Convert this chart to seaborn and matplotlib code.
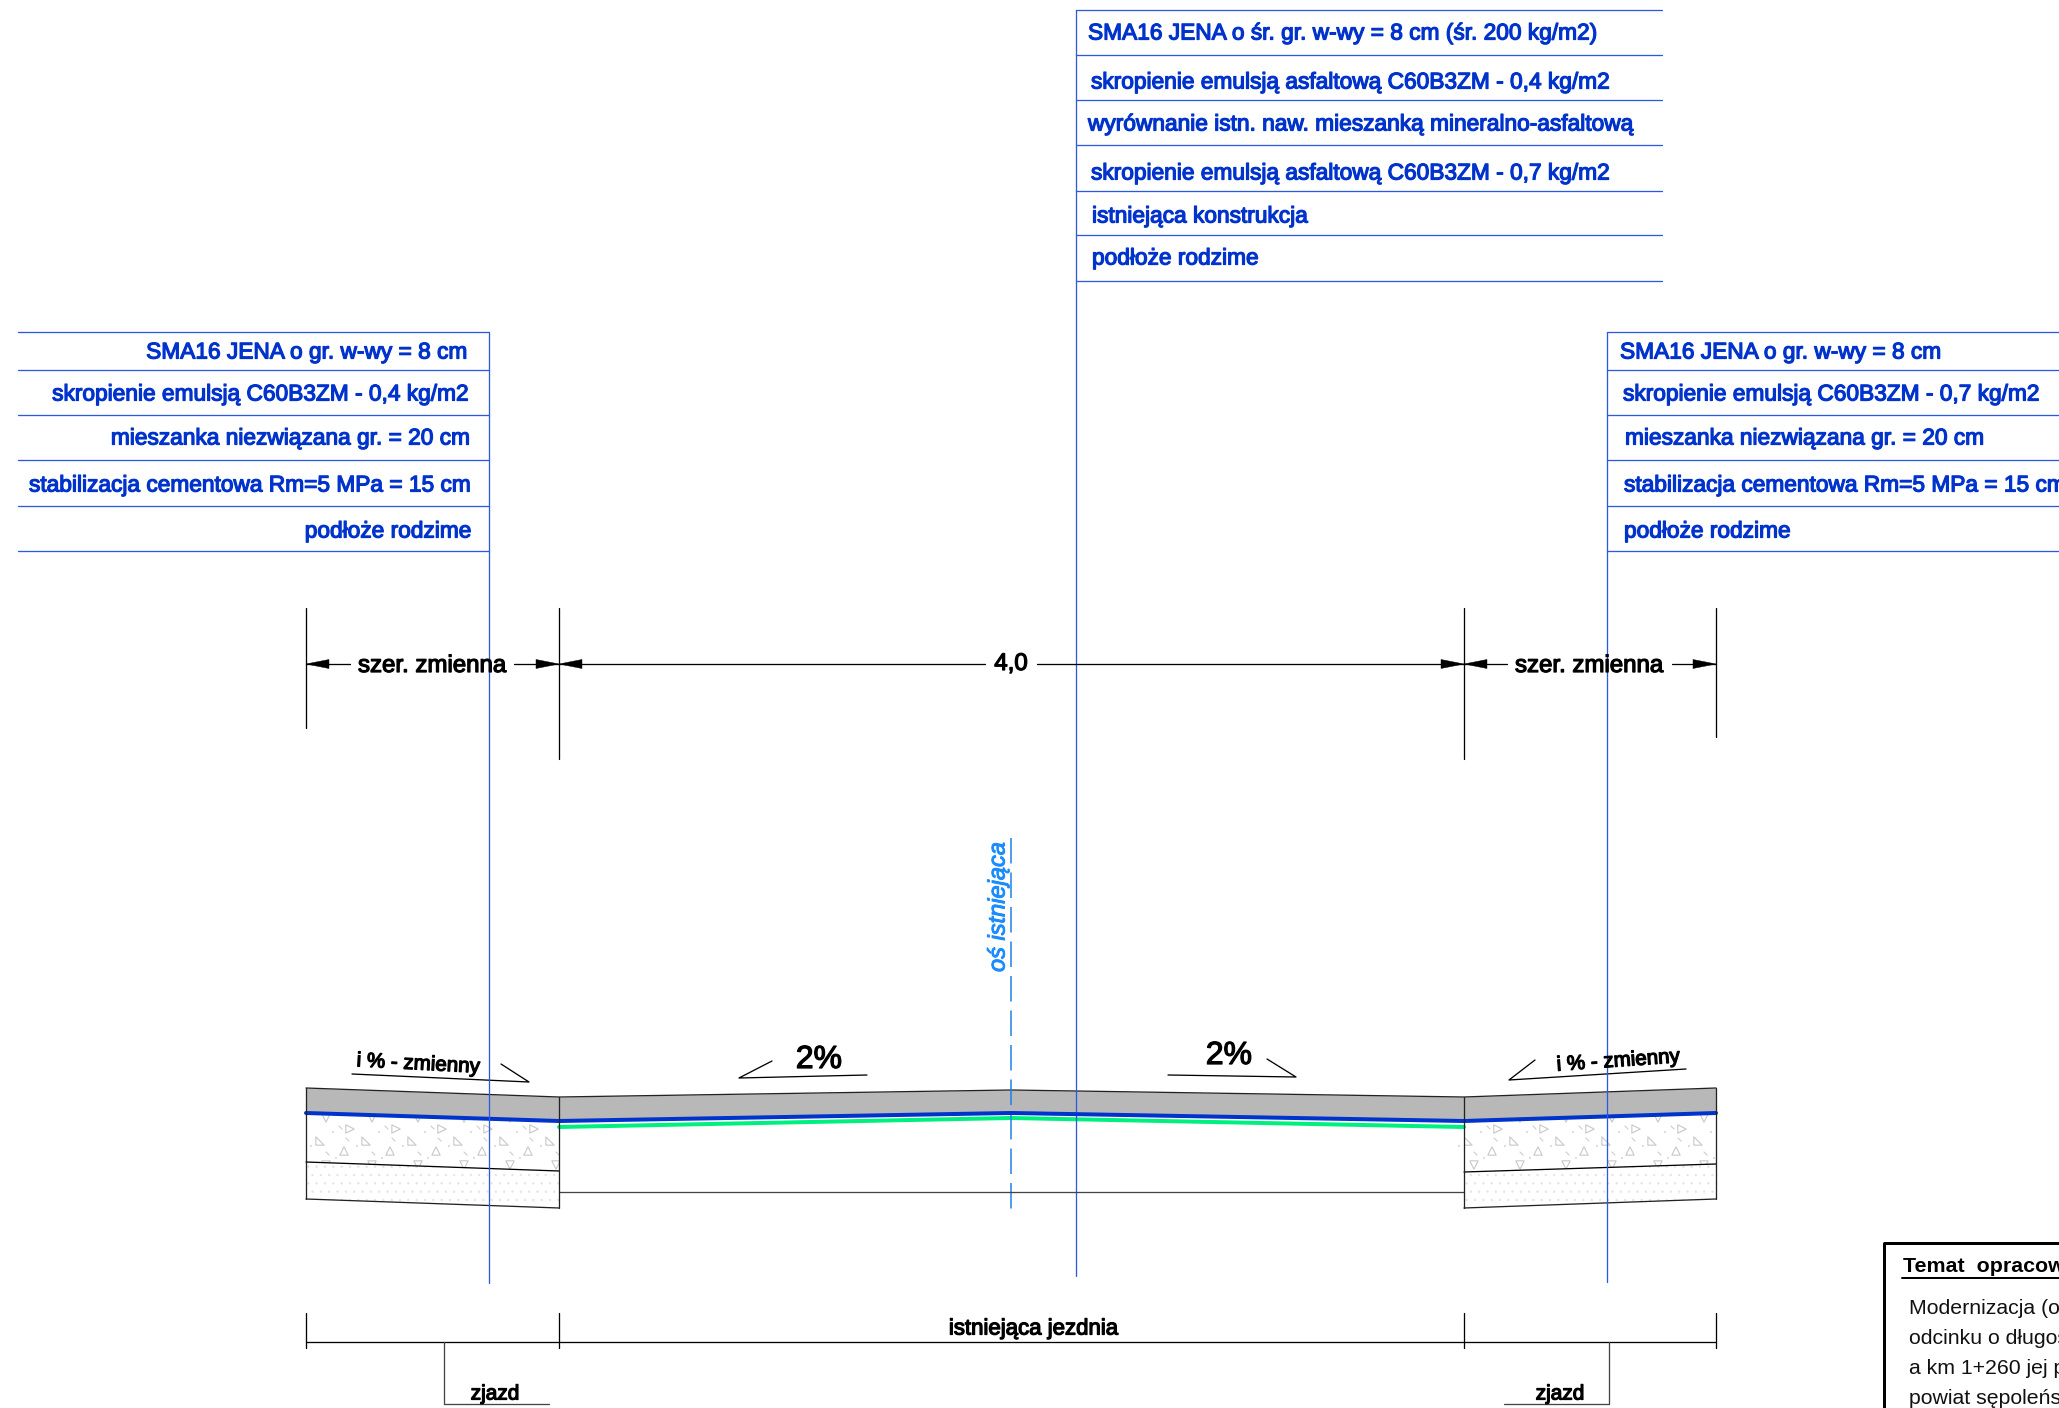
import matplotlib
matplotlib.use("Agg")
import matplotlib.pyplot as plt
import matplotlib.patheffects as pe
from matplotlib.patches import Polygon
import numpy as np
import seaborn as sns

# road section, all read in picture pixels
stations = [306, 559, 1011, 1464, 1716]
top_y = [1088, 1097, 1090, 1097, 1088]
blue_y = [1113, 1121, 1113, 1121, 1113]
green_x = [559, 1011, 1464]
green_y = [1127, 1118, 1127]

left_layer_y = [1162, 1171]
left_bottom_y = [1199, 1208]
right_layer_y = [1172, 1164]
right_bottom_y = [1208, 1199]

# tables
top_rules = [10, 55, 100, 145, 191, 235, 281]
top_labels = ["SMA16 JENA o śr. gr. w-wy = 8 cm (śr. 200 kg/m2)",
              "skropienie emulsją asfaltową C60B3ZM - 0,4 kg/m2",
              "wyrównanie istn. naw. mieszanką mineralno-asfaltową",
              "skropienie emulsją asfaltową C60B3ZM - 0,7 kg/m2",
              "istniejąca konstrukcja",
              "podłoże rodzime"]
top_label_x = [1088, 1091, 1088, 1091, 1092, 1092]
top_label_y = [32, 81, 123, 172, 215, 257]

side_rules = [332, 370, 415, 460, 506, 551]
side_label_y = [351, 393, 437, 484, 530]
left_labels = ["SMA16 JENA o gr. w-wy = 8 cm",
               "skropienie emulsją C60B3ZM - 0,4 kg/m2",
               "mieszanka niezwiązana gr. = 20 cm",
               "stabilizacja cementowa Rm=5 MPa = 15 cm",
               "podłoże rodzime"]
left_label_x = [468, 470, 471, 472, 472]
right_labels = ["SMA16 JENA o gr. w-wy = 8 cm",
                "skropienie emulsją C60B3ZM - 0,7 kg/m2",
                "mieszanka niezwiązana gr. = 20 cm",
                "stabilizacja cementowa Rm=5 MPa = 15 cm",
                "podłoże rodzime"]
right_label_x = [1620, 1623, 1625, 1624, 1624]

# title block lines
title_lines = ["Modernizacja (od", "odcinku o długości", "a km 1+260 jej przebudowa", "powiat sępoleński"]
title_y = [1309, 1339, 1369, 1399]

BLUE = "#0033cc"
RULE = "#2a5ae0"
BLACK = "#000000"
STONE = "#c8c8c8"
px = 0.72
FONT = "Liberation Sans"

sns.set_theme(style="white")
plt.rcParams["font.family"] = [FONT, "DejaVu Sans"]
plt.rcParams["hatch.linewidth"] = 0.4

fig = plt.figure(figsize=(20.59, 14.08), dpi=100)
ax = fig.add_axes([0, 0, 1, 1])
ax.set_xlim(0, 2059)
ax.set_ylim(1408, 0)
ax.axis("off")


def line(xs, ys, color=BLACK, width=1.3, z=4, **kw):
    sns.lineplot(x=xs, y=ys, color=color, linewidth=width * px, estimator=None,
                 sort=False, errorbar=None, legend=False, ax=ax, zorder=z, **kw)


def cad(x, y, s, size=16.35, color=BLUE, ha="left", rot=0, stroke=0.9, **kw):
    t = ax.text(x, y, s, fontsize=size, color=color, ha=ha, va="center", rotation=rot,
                rotation_mode="anchor", family=FONT, zorder=6, **kw)
    t.set_path_effects([pe.withStroke(linewidth=stroke, foreground=color)])
    return t


def arrow(tip, base, y=664):
    ax.add_patch(Polygon([(tip, y), (base, y - 4.5), (base, y + 4.5)], closed=True,
                         facecolor=BLACK, edgecolor=BLACK, lw=0.3, zorder=5))


# grey wearing course
ax.fill_between(stations, top_y, blue_y, color="#b8b8b8", lw=0, zorder=1)

# stone layers, left and right
corner = [(-1, -1), (1, -1), (-1, 1), (-1, -1)]
for xa, xb, up, low, bot, nudge in [(306, 559, blue_y[:2], left_layer_y, left_bottom_y, 0),
                                    (1464, 1716, blue_y[3:], right_layer_y, right_bottom_y, -10)]:
    stone = Polygon([(xa, up[0]), (xb, up[1]), (xb, low[1]), (xa, low[0])], closed=True,
                    facecolor="white", edgecolor="none", zorder=1)
    ax.add_patch(stone)
    rows = [(1118, "v", 20), (1129, ">", 44), (1141, corner, 14), (1151, "^", 38), (1165, "v", 20)]
    for ry, marker, shift in rows:
        xs = np.arange(xa + shift + nudge, xb, 46)
        pts = ax.scatter(xs, np.full(len(xs), ry), marker=marker, s=36, facecolors="none",
                         edgecolors=STONE, linewidths=0.8, zorder=2)
        pts.set_clip_path(stone)
    for ry, shift in [(1127, 34), (1139, 41), (1153, 21)]:
        xs = np.arange(xa + shift + nudge, xb, 46)
        ax.scatter(xs, np.full(len(xs), ry), marker=(2, 0, 45), s=14, color=STONE,
                   linewidths=0.7, zorder=2)
    for ry, shift in [(1132, 27), (1146, 5), (1158, 30)]:
        xs = np.arange(xa + shift + nudge, xb, 46)
        ax.scatter(xs, np.full(len(xs), ry), marker="s", s=2, color="#dddddd", linewidths=0, zorder=2)
    sand = Polygon([(xa, low[0]), (xb, low[1]), (xb, bot[1]), (xa, bot[0])], closed=True,
                   facecolor="white", edgecolor="#e2e2e2", hatch="..", lw=0, zorder=1)
    ax.add_patch(sand)

# profile lines
line(stations, top_y, color="#222222", z=3)
line(stations, blue_y, color=BLUE, width=4, z=4)
line(green_x, green_y, color="#00f080", width=4, z=3)
line([559, 1464], [1192, 1192], color="#444444")
line(stations[:2], left_layer_y)
line(stations[:2], left_bottom_y, color="#222222")
line(stations[3:], right_layer_y)
line(stations[3:], right_bottom_y, color="#222222")
for x, ya, yb in [(306, 1088, 1199), (559, 1097, 1208), (1464, 1097, 1208), (1716, 1088, 1199)]:
    line([x, x], [ya, yb], color="#222222")

# existing axis
line([1011, 1011], [838, 1217], color="#1a7fe8", width=1.5, z=3, dashes=(17, 6))
cad(998, 972, "oś istniejąca", size=17, color="#1a8cff", rot=90, style="italic", stroke=0.7)

# tables
for y in top_rules:
    line([1076, 1662], [y, y], color=RULE, z=3)
line([1076, 1076], [10, 1276], color=RULE, z=3)
for x, y, s in zip(top_label_x, top_label_y, top_labels):
    cad(x, y + 1, s)

for y in side_rules:
    line([18, 489], [y, y], color=RULE, z=3)
    line([1607, 2059], [y, y], color=RULE, z=3)
line([489, 489], [332, 1283], color=RULE, z=5)
line([1607, 1607], [332, 1282], color=RULE, z=5)
for x, y, s in zip(left_label_x, side_label_y, left_labels):
    cad(x, y + 1, s, ha="right")
for x, y, s in zip(right_label_x, side_label_y, right_labels):
    cad(x, y + 1, s)

# dimension lines
for x, ya, yb in [(306, 608, 728), (559, 608, 759), (1464, 608, 759), (1716, 608, 737)]:
    line([x, x], [ya, yb])
for xa, xb in [(306, 350), (514, 559), (559, 985), (1037, 1464), (1464, 1507), (1672, 1716)]:
    line([xa, xb], [664, 664])
for tip, base in [(306, 329), (559, 536), (559, 582), (1464, 1441), (1464, 1487), (1716, 1693)]:
    arrow(tip, base)
cad(432, 666, "szer. zmienna", size=17.3, color=BLACK, ha="center")
cad(1589, 666, "szer. zmienna", size=17.3, color=BLACK, ha="center")
cad(1011, 664, "4,0", size=17.3, color=BLACK, ha="center")

# slope marks
line([352, 529, 501], [1074, 1082, 1064])
line([1535, 1509, 1686], [1060, 1080, 1069])
line([772, 739, 867], [1061, 1078, 1075])
line([1168, 1296, 1267], [1075, 1077, 1059])
cad(418, 1064, "i % - zmienny", size=14.8, color=BLACK, ha="center", rot=-3)
cad(1618, 1061, "i % - zmienny", size=14.8, color=BLACK, ha="center", rot=4)
cad(819, 1060, "2%", size=23, color=BLACK, ha="center")
cad(1229, 1056, "2%", size=23, color=BLACK, ha="center")

# bottom ruler
line([306, 1716], [1342, 1342])
for x in stations[:2] + stations[3:]:
    line([x, x], [1313, 1348])
line([444, 444, 549], [1342, 1404, 1404], color="#444444")
line([1504, 1609, 1609], [1404, 1404, 1342], color="#444444")
cad(1034, 1329, "istniejąca jezdnia", size=16, color=BLACK, ha="center")
cad(495, 1394, "zjazd", size=15, color=BLACK, ha="center")
cad(1560, 1394, "zjazd", size=15, color=BLACK, ha="center")

# title block, runs off the sheet
line([2059, 1884, 1884], [1243, 1243, 1408], width=3)
ax.text(1903, 1267, "Temat  opracowania", fontsize=15.4, color=BLACK, fontweight="bold",
        va="center", family=FONT, zorder=6, clip_on=True)
line([1902, 2059], [1278, 1278], width=2)
for y, s in zip(title_y, title_lines):
    ax.text(1909, y, s, fontsize=15.3, color="#111111", va="center", family=FONT, zorder=6, clip_on=True)

fig.savefig("out.png", dpi=100, facecolor="white")
